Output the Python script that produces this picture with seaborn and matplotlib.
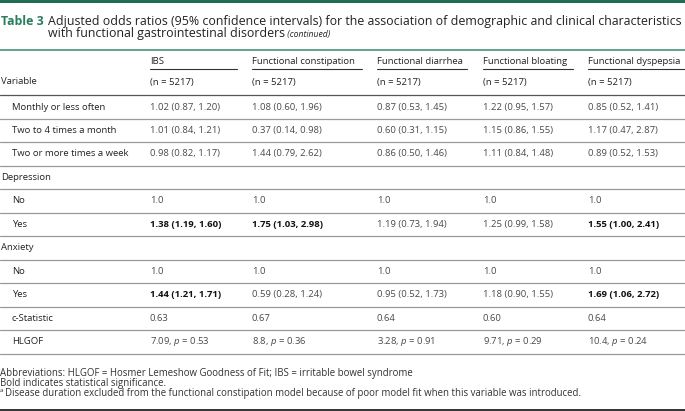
import matplotlib
matplotlib.use("Agg")
import matplotlib.pyplot as plt
import seaborn as sns

sns.set_theme(style="white")
plt.rcParams["font.family"] = ["Open Sans", "DejaVu Sans"]
plt.rcParams["mathtext.fontset"] = "custom"
plt.rcParams["mathtext.it"] = "Open Sans:italic"
plt.rcParams["mathtext.rm"] = "Open Sans"

# table content
columns = ["IBS", "Functional constipation", "Functional diarrhea",
           "Functional bloating", "Functional dyspepsia"]
n_label = "(n = 5217)"
row_labels = ["Monthly or less often", "Two to 4 times a month", "Two or more times a week",
              "Depression", "No", "Yes", "Anxiety", "No", "Yes", "c-Statistic", "HLGOF"]
group_rows = ["Depression", "Anxiety"]
ibs = ["1.02 (0.87, 1.20)", "1.01 (0.84, 1.21)", "0.98 (0.82, 1.17)", "",
       "1.0", "1.38 (1.19, 1.60)", "", "1.0", "1.44 (1.21, 1.71)", "0.63", "7.09, $p$ = 0.53"]
constipation = ["1.08 (0.60, 1.96)", "0.37 (0.14, 0.98)", "1.44 (0.79, 2.62)", "",
                "1.0", "1.75 (1.03, 2.98)", "", "1.0", "0.59 (0.28, 1.24)", "0.67", "8.8, $p$ = 0.36"]
diarrhea = ["0.87 (0.53, 1.45)", "0.60 (0.31, 1.15)", "0.86 (0.50, 1.46)", "",
            "1.0", "1.19 (0.73, 1.94)", "", "1.0", "0.95 (0.52, 1.73)", "0.64", "3.28, $p$ = 0.91"]
bloating = ["1.22 (0.95, 1.57)", "1.15 (0.86, 1.55)", "1.11 (0.84, 1.48)", "",
            "1.0", "1.25 (0.99, 1.58)", "", "1.0", "1.18 (0.90, 1.55)", "0.60", "9.71, $p$ = 0.29"]
dyspepsia = ["0.85 (0.52, 1.41)", "1.17 (0.47, 2.87)", "0.89 (0.52, 1.53)", "",
             "1.0", "1.55 (1.00, 2.41)", "", "1.0", "1.69 (1.06, 2.72)", "0.64", "10.4, $p$ = 0.24"]
# (row, column) cells printed in bold
bold_cells = [(5, 0), (5, 1), (5, 4), (8, 0), (8, 4)]

title_lead = "Table 3"
title_line1 = "Adjusted odds ratios (95% confidence intervals) for the association of demographic and clinical characteristics"
title_line2 = "with functional gastrointestinal disorders"
footnotes = ["Abbreviations: HLGOF = Hosmer Lemeshow Goodness of Fit; IBS = irritable bowel syndrome",
             "Bold indicates statistical significance.",
             "Disease duration excluded from the functional constipation model because of poor model fit when this variable was introduced."]

values = [ibs, constipation, diarrhea, bloating, dyspepsia]

W, H = 685, 411
fig = plt.figure(figsize=(W / 100, H / 100), dpi=100)
ax = fig.add_axes([0, 0, 1, 1])
ax.set_xlim(0, W)
ax.set_ylim(H, 0)
ax.axis("off")

green = "#1f6e52"
body = 6.8
col_x = [150, 252, 377, 483, 588]
col_end = [237, 362, 467, 573, 685]

# banner + title
ax.axhspan(0, 3.5, color=green, lw=0)
ax.text(1, 21.5, title_lead, fontsize=8.9, fontweight="bold", color="#2a7d5c", va="center")
ax.text(48, 21.5, title_line1, fontsize=8.9, color="#222222", va="center")
t2 = ax.text(48, 34, title_line2, fontsize=8.9, color="#222222", va="center")
ax.annotate(" (continued)", xy=(1, 0.25), xycoords=t2, fontsize=6.2, style="italic",
            color="#222222", va="baseline")
ax.plot([0, W], [50, 50], color="#4a9478", lw=1.2)

# column headers
for x, x2, name in zip(col_x, col_end, columns):
    ax.text(x, 61, name, fontsize=body, color="#222222", va="center")
    ax.plot([x, x2], [69.5, 69.5], color="#333333", lw=0.8)
    ax.text(x, 82, n_label, fontsize=body, color="#222222", va="center")
ax.text(1, 82, "Variable", fontsize=body, color="#222222", va="center")
ax.plot([0, W], [95, 95], color="#555555", lw=0.9)

# body rows
y0, step = 107, 23.45
for i, lab in enumerate(row_labels):
    y = y0 + i * step
    group = lab in group_rows
    ax.text(1 if group else 12, y, lab, fontsize=body, color="#222222", va="center")
    for j, col in enumerate(values):
        bold = (i, j) in bold_cells
        ax.text(col_x[j], y, col[i], fontsize=body, va="center",
                fontweight="bold" if bold else "normal",
                color="#111111" if bold else "#4a4a4a")
    ax.plot([0, W], [y + 12, y + 12], color="#9a9a9a", lw=0.9)

# footnotes
fs = 6.9
ax.text(0, 373, footnotes[0], fontsize=fs, color="#333333", va="center")
ax.text(0, 383, footnotes[1], fontsize=fs, color="#333333", va="center")
ax.text(0, 390, "a", fontsize=4.5, color="#333333", va="center")
ax.text(5, 393, footnotes[2], fontsize=fs, color="#333333", va="center")
ax.plot([0, W], [409.5, 409.5], color="#111111", lw=1.2)

fig.savefig("out.png", dpi=100)
